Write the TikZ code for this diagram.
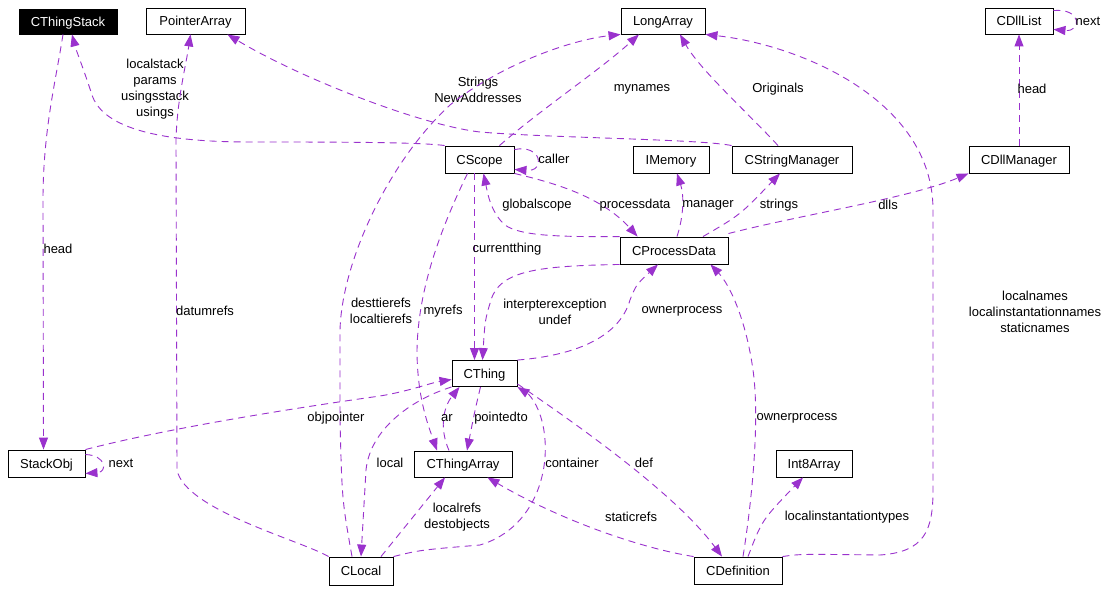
\documentclass[tikz,border=0pt]{standalone}
\usepackage{fontspec}
\setmainfont{Liberation Sans}
\usetikzlibrary{arrows.meta,calc}
\definecolor{edgec}{HTML}{9A32CD}
\begin{document}
\begin{tikzpicture}[x=1pt,y=-1pt,
  cls/.style={draw=black, line width=0.9pt, inner sep=0pt, text height=9.5pt, text depth=0pt, font=\fontsize{13}{16}\selectfont},
  edge/.style={draw=edgec, line width=0.9pt, dash pattern=on 7pt off 5pt, -{Triangle[length=12pt,width=9pt]}},
  lbl/.style={font=\fontsize{13}{16}\selectfont, align=center, inner sep=0pt, text=black},
]
\fill[white] (0,0) rectangle (1110,591);
\path[use as bounding box] (0,0) rectangle (1110,591);

% classes
\node[cls, fill=black, text=white, minimum width=98pt, minimum height=25pt] (CThingStack) at (68,21.5) {CThingStack};
\node[cls, minimum width=99pt, minimum height=26pt] (PointerArray) at (195.5,21) {PointerArray};
\node[cls, minimum width=84pt, minimum height=26pt] (LongArray) at (663,21) {LongArray};
\node[cls, minimum width=68pt, minimum height=26pt] (CDllList) at (1019,21) {CDllList};
\node[cls, minimum width=69pt, minimum height=27pt] (CScope) at (479.5,159.5) {CScope};
\node[cls, minimum width=76pt, minimum height=27pt] (IMemory) at (671,159.5) {IMemory};
\node[cls, minimum width=120pt, minimum height=27pt] (CStringManager) at (792,159.5) {CStringManager};
\node[cls, minimum width=100pt, minimum height=27pt] (CDllManager) at (1019,159.5) {CDllManager};
\node[cls, minimum width=108pt, minimum height=27pt] (CProcessData) at (674,250.5) {CProcessData};
\node[cls, minimum width=65pt, minimum height=26pt] (CThing) at (484.5,373.5) {CThing};
\node[cls, minimum width=77pt, minimum height=27pt] (StackObj) at (46.5,463.5) {StackObj};
\node[cls, minimum width=98pt, minimum height=26pt] (CThingArray) at (463,464) {CThingArray};
\node[cls, minimum width=76pt, minimum height=27pt] (Int8Array) at (814,463.5) {Int8Array};
\node[cls, minimum width=64pt, minimum height=28pt] (CLocal) at (361,571) {CLocal};
\node[cls, minimum width=88pt, minimum height=27pt] (CDefinition) at (738,570.5) {CDefinition};

% edges
\draw[edge] ($(CThingStack.south)+(-5,0)$) .. controls (56,80) and (43,130) .. (43,200) -- ($(StackObj.north)+(-3,0)$);
\node[lbl] (lHead1) at (58,249) {head};

\draw[edge] (CScope.north west) .. controls (420,142) and (330,142) .. (250,142) .. controls (150,142) and (102,125) .. (92,95) .. controls (84,70) and (76,50) .. ($(CThingStack.south)+(4,0)$);
\node[lbl] (lLocalstack) at (155,89) {localstack\\params\\usingsstack\\usings};

\draw[edge] (CLocal.north west) .. controls (300,540) and (185,510) .. (177,470) -- (176,140) .. controls (177,100) and (186,65) .. ($(PointerArray.south)+(-5,0)$);
\node[lbl] (lDatumrefs) at (205,311) {datumrefs};

\draw[edge] (CStringManager.north west) .. controls (700,139) and (550,138) .. (480,132) .. controls (420,125) and (300,78) .. ($(PointerArray.south east)+(-18,0)$);
\node[lbl] (lStrings) at (478,90) {Strings\\NewAddresses};

\draw[edge] ($(CLocal.north)+(-9,0)$) .. controls (342,500) .. (340,420) -- (340,330) .. controls (342,260) and (390,160) .. (450,105) .. controls (500,65) and (570,40) .. (LongArray.south west);
\node[lbl] (lTierefs) at (381,311) {desttierefs\\localtierefs};

\draw[edge] ($(CScope.north)+(20,0)$) .. controls (540,110) and (600,70) .. ($(LongArray.south)+(-24,0)$);
\node[lbl] (lMynames) at (642,89) {mynames};

\draw[edge] ($(CStringManager.north)+(-14,0)$) .. controls (750,115) and (700,70) .. ($(LongArray.south)+(17,0)$);
\node[lbl] (lOriginals) at (778,89) {Originals};

\draw[edge] (CDefinition.north east) .. controls (800,554) .. (880,555) .. controls (925,552) and (933,530) .. (933,490) -- (933,210) .. controls (933,100) and (800,45) .. (LongArray.south east);
\node[lbl] (lLocalnames) at (1035,312) {localnames\\localinstantationnames\\staticnames};

\draw[edge] (CDllManager.north) -- (CDllList.south);
\node[lbl] (lHead2) at (1032,89) {head};

\draw[edge] ($(CDllList.north east)+(0,3)$) .. controls (1082,8) and (1082,32) .. ($(CDllList.south east)+(0,-5)$);
\node[lbl] (lNext1) at (1088,21) {next};

\draw[edge] ($(CScope.north east)+(0,4)$) .. controls (542,144) and (546,172) .. ($(CScope.south east)+(0,-4)$);
\node[lbl] (lCaller) at (554,159) {caller};

\draw[edge] (CProcessData.north west) .. controls (560,237) and (520,236) .. (505,225) .. controls (490,212) and (487,190) .. ($(CScope.south)+(4,0)$);
\node[lbl] (lGlobalscope) at (537,205) {globalscope};

\draw[edge] (CScope.south east) .. controls (550,182) and (600,195) .. ($(CProcessData.north west)+(18,0)$);
\node[lbl] (lProcessdata) at (635,205) {processdata};

\draw[edge] ($(CProcessData.north)+(3,0)$) .. controls (684,215) and (684,195) .. ($(IMemory.south)+(6,0)$);
\node[lbl] (lManager) at (708,205) {manager};

\draw[edge] ($(CProcessData.north)+(29,0)$) .. controls (740,215) .. ($(CStringManager.south)+(-12,0)$);
\node[lbl] (lStrings2) at (779,205) {strings};

\draw[edge] ($(CProcessData.north east)+(0,-3)$) .. controls (800,215) and (910,198) .. (CDllManager.south west);
\node[lbl] (lDlls) at (888,205) {dlls};

\draw[edge] ($(CScope.south)+(-5,0)$) -- ($(CThing.north)+(-10,0)$);
\node[lbl] (lCurrentthing) at (507,249) {currentthing};

\draw[edge] (CProcessData.south west) .. controls (540,266) and (500,270) .. (491,300) .. controls (485,320) .. ($(CThing.north)+(-2,0)$);
\node[lbl] (lInterp) at (555,312) {interpterexception\\undef};

\draw[edge] (CThing.north east) .. controls (580,355) and (620,335) .. (630,300) .. controls (636,285) .. ($(CProcessData.south)+(-16,0)$);
\node[lbl] (lOwner1) at (682,311) {ownerprocess};

\draw[edge] ($(CDefinition.north)+(5,0)$) .. controls (752,500) and (760,420) .. (753,370) .. controls (746,320) and (730,285) .. ($(CProcessData.south east)+(-18,0)$);
\node[lbl] (lOwner2) at (797,418) {ownerprocess};

\draw[edge] ($(CScope.south)+(-12,0)$) .. controls (440,230) and (418,290) .. (417,350) .. controls (417,400) and (430,430) .. ($(CThingArray.north)+(-26,0)$);
\node[lbl] (lMyrefs) at (443,311) {myrefs};

\draw[edge] ($(CThingArray.north)+(-14,0)$) .. controls (438,425) and (445,405) .. ($(CThing.south)+(-25,0)$);
\node[lbl] (lAr) at (447,418) {ar};

\draw[edge] ($(CThing.south)+(-4,0)$) .. controls (475,410) .. ($(CThingArray.north)+(4,0)$);
\node[lbl] (lPointedto) at (501,418) {pointedto};

\draw[edge] (StackObj.north east) .. controls (180,425) and (330,403) .. (380,396) .. controls (410,391) and (430,383) .. ($(CThing.west)+(0,6)$);
\node[lbl] (lObjpointer) at (336,418) {objpointer};

\draw[edge] ($(StackObj.north east)+(0,5)$) .. controls (106,455) and (108,472) .. ($(StackObj.south east)+(0,-4)$);
\node[lbl] (lNext2) at (121,463) {next};

\draw[edge] (CThing.south west) .. controls (410,400) and (370,430) .. (366,470) -- (CLocal.north);
\node[lbl] (lLocal) at (390,463) {local};

\draw[edge] (CLocal.north east) .. controls (420,550) .. (480,545) .. controls (530,530) and (548,480) .. (545,440) .. controls (543,410) and (530,395) .. (CThing.south east);
\node[lbl] (lContainer) at (572,463) {container};

\draw[edge] ($(CLocal.north)+(20,0)$) -- ($(CThingArray.south)+(-18,0)$);
\node[lbl] (lLocalrefs) at (457,517) {localrefs\\destobjects};

\draw[edge] (CDefinition.north west) .. controls (640,548) and (560,520) .. ($(CThingArray.south east)+(-25,0)$);
\node[lbl] (lStaticrefs) at (631,517) {staticrefs};

\draw[edge] ($(CThing.south east)+(0,-3)$) .. controls (600,440) and (680,500) .. ($(CDefinition.north)+(-16,0)$);
\node[lbl] (lDef) at (644,463) {def};

\draw[edge] ($(CDefinition.north)+(10,0)$) .. controls (762,520) .. ($(Int8Array.south)+(-11,0)$);
\node[lbl] (lLocalinst) at (847,517) {localinstantationtypes};
\end{tikzpicture}
\end{document}
